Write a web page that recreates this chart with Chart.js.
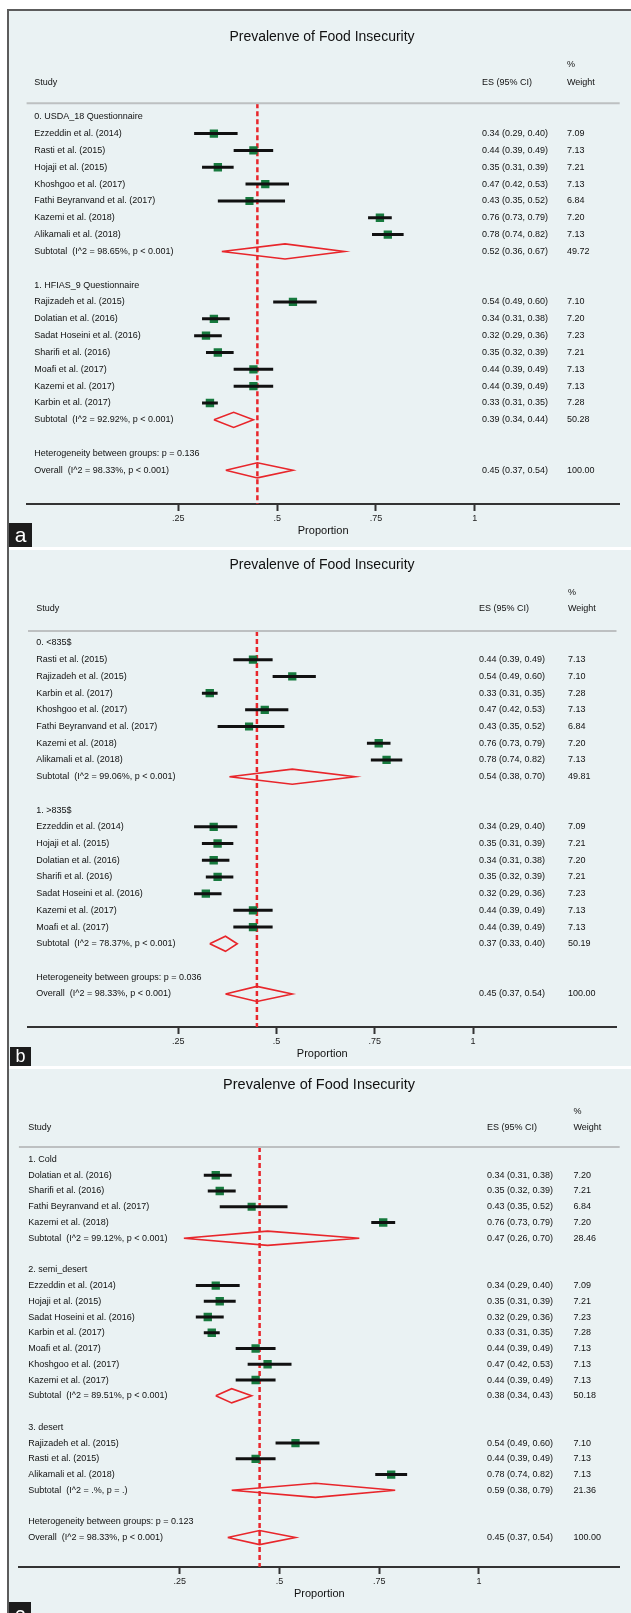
<!DOCTYPE html>
<html>
<head>
<meta charset="utf-8">
<script src="https://cdn.jsdelivr.net/npm/chart.js@4.4.1/dist/chart.umd.min.js"></script>
<style>
html, body { margin: 0; padding: 0; background: #fff; overflow: hidden; }
#frame { position: absolute; left: 7px; top: 9px; width: 624px; height: 1602px;
         border-left: 2px solid #5c5c5c; border-top: 2px solid #5c5c5c; background: #fff; }
.panel { background: #eaf2f3; width: 622px; margin-bottom: 3px; }
canvas { display: block; }
</style>
</head>
<body>
<div id="frame">
  <div class="panel"><canvas id="panel_a" width="622" height="536"></canvas></div>
  <div class="panel"><canvas id="panel_b" width="622" height="516"></canvas></div>
  <div class="panel"><canvas id="panel_c" width="622" height="544"></canvas></div>
</div>
<script>
var chart_title = 'Prevalenve of Food Insecurity'
var x_ticks = [0.25, 0.5, 0.75, 1]
var x_tick_labels = ['.25', '.5', '.75', '1']

// a: by questionnaire
var a_kind = ['group', 'study', 'study', 'study', 'study', 'study', 'study', 'study', 'sub', 'blank',
    'group', 'study', 'study', 'study', 'study', 'study', 'study', 'study', 'sub', 'blank', 'het', 'overall']
var a_label = ['0. USDA_18 Questionnaire', 'Ezzeddin et al. (2014)', 'Rasti et al. (2015)', 'Hojaji et al. (2015)',
    'Khoshgoo et al. (2017)', 'Fathi Beyranvand et al. (2017)', 'Kazemi et al. (2018)', 'Alikamali et al. (2018)',
    'Subtotal  (I^2 = 98.65%, p < 0.001)', '',
    '1. HFIAS_9 Questionnaire', 'Rajizadeh et al. (2015)', 'Dolatian et al. (2016)', 'Sadat Hoseini et al. (2016)',
    'Sharifi et al. (2016)', 'Moafi et al. (2017)', 'Kazemi et al. (2017)', 'Karbin et al. (2017)',
    'Subtotal  (I^2 = 92.92%, p < 0.001)', '',
    'Heterogeneity between groups: p = 0.136', 'Overall  (I^2 = 98.33%, p < 0.001)']
var a_es = [null, 0.34, 0.44, 0.35, 0.47, 0.43, 0.76, 0.78, 0.52, null, null, 0.54, 0.34, 0.32, 0.35, 0.44, 0.44, 0.33, 0.39, null, null, 0.45]
var a_lo = [null, 0.29, 0.39, 0.31, 0.42, 0.35, 0.73, 0.74, 0.36, null, null, 0.49, 0.31, 0.29, 0.32, 0.39, 0.39, 0.31, 0.34, null, null, 0.37]
var a_hi = [null, 0.40, 0.49, 0.39, 0.53, 0.52, 0.79, 0.82, 0.67, null, null, 0.60, 0.38, 0.36, 0.39, 0.49, 0.49, 0.35, 0.44, null, null, 0.54]
var a_weight = [null, 7.09, 7.13, 7.21, 7.13, 6.84, 7.20, 7.13, 49.72, null, null, 7.10, 7.20, 7.23, 7.21, 7.13, 7.13, 7.28, 50.28, null, null, 100.00]

// b: by income
var b_kind = a_kind
var b_label = ['0. <835$', 'Rasti et al. (2015)', 'Rajizadeh et al. (2015)', 'Karbin et al. (2017)',
    'Khoshgoo et al. (2017)', 'Fathi Beyranvand et al. (2017)', 'Kazemi et al. (2018)', 'Alikamali et al. (2018)',
    'Subtotal  (I^2 = 99.06%, p < 0.001)', '',
    '1. >835$', 'Ezzeddin et al. (2014)', 'Hojaji et al. (2015)', 'Dolatian et al. (2016)',
    'Sharifi et al. (2016)', 'Sadat Hoseini et al. (2016)', 'Kazemi et al. (2017)', 'Moafi et al. (2017)',
    'Subtotal  (I^2 = 78.37%, p < 0.001)', '',
    'Heterogeneity between groups: p = 0.036', 'Overall  (I^2 = 98.33%, p < 0.001)']
var b_es = [null, 0.44, 0.54, 0.33, 0.47, 0.43, 0.76, 0.78, 0.54, null, null, 0.34, 0.35, 0.34, 0.35, 0.32, 0.44, 0.44, 0.37, null, null, 0.45]
var b_lo = [null, 0.39, 0.49, 0.31, 0.42, 0.35, 0.73, 0.74, 0.38, null, null, 0.29, 0.31, 0.31, 0.32, 0.29, 0.39, 0.39, 0.33, null, null, 0.37]
var b_hi = [null, 0.49, 0.60, 0.35, 0.53, 0.52, 0.79, 0.82, 0.70, null, null, 0.40, 0.39, 0.38, 0.39, 0.36, 0.49, 0.49, 0.40, null, null, 0.54]
var b_weight = [null, 7.13, 7.10, 7.28, 7.13, 6.84, 7.20, 7.13, 49.81, null, null, 7.09, 7.21, 7.20, 7.21, 7.23, 7.13, 7.13, 50.19, null, null, 100.00]

// c: by climate
var c_kind = ['group', 'study', 'study', 'study', 'study', 'sub', 'blank',
    'group', 'study', 'study', 'study', 'study', 'study', 'study', 'study', 'sub', 'blank',
    'group', 'study', 'study', 'study', 'sub', 'blank', 'het', 'overall']
var c_label = ['1. Cold', 'Dolatian et al. (2016)', 'Sharifi et al. (2016)', 'Fathi Beyranvand et al. (2017)',
    'Kazemi et al. (2018)', 'Subtotal  (I^2 = 99.12%, p < 0.001)', '',
    '2. semi_desert', 'Ezzeddin et al. (2014)', 'Hojaji et al. (2015)', 'Sadat Hoseini et al. (2016)',
    'Karbin et al. (2017)', 'Moafi et al. (2017)', 'Khoshgoo et al. (2017)', 'Kazemi et al. (2017)',
    'Subtotal  (I^2 = 89.51%, p < 0.001)', '',
    '3. desert', 'Rajizadeh et al. (2015)', 'Rasti et al. (2015)', 'Alikamali et al. (2018)',
    'Subtotal  (I^2 = .%, p = .)', '',
    'Heterogeneity between groups: p = 0.123', 'Overall  (I^2 = 98.33%, p < 0.001)']
var c_es = [null, 0.34, 0.35, 0.43, 0.76, 0.47, null, null, 0.34, 0.35, 0.32, 0.33, 0.44, 0.47, 0.44, 0.38, null, null, 0.54, 0.44, 0.78, 0.59, null, null, 0.45]
var c_lo = [null, 0.31, 0.32, 0.35, 0.73, 0.26, null, null, 0.29, 0.31, 0.29, 0.31, 0.39, 0.42, 0.39, 0.34, null, null, 0.49, 0.39, 0.74, 0.38, null, null, 0.37]
var c_hi = [null, 0.38, 0.39, 0.52, 0.79, 0.70, null, null, 0.40, 0.39, 0.36, 0.35, 0.49, 0.53, 0.49, 0.43, null, null, 0.60, 0.49, 0.82, 0.79, null, null, 0.54]
var c_weight = [null, 7.20, 7.21, 6.84, 7.20, 28.46, null, null, 7.09, 7.21, 7.23, 7.28, 7.13, 7.13, 7.13, 50.18, null, null, 7.10, 7.13, 7.13, 21.36, null, null, 100.00]

var FONT = '"Liberation Sans", Arial, Helvetica, sans-serif'
var RED = '#e8262b'
var GREEN = '#177a3e'
Chart.defaults.font.family = FONT

// pixel layout of each panel (canvas coords)
var layouts = {
    a: { padL: 17.6, padR: 11.3, padT: 92.3, padB: 9, xMin: -0.1338, xMax: 1.3666, yMin: -0.8, yMax: 23,
         titleX: 313, titleY: 26, titleSize: 14, pctY: 54, headY: 71.7, labelX: 25.2, esX: 473, wX: 558,
         box: [0, 512, 23, 24], letter: 'a', letterSize: 21 },
    b: { padL: 19, padR: 14.5, padT: 81, padB: 5, xMin: -0.1326, xMax: 1.3652, yMin: -0.718, yMax: 22.98,
         titleX: 313, titleY: 15, titleSize: 14, pctY: 43, headY: 59, labelX: 27.2, esX: 470, wX: 559,
         box: [1, 497, 21, 19], letter: 'b', letterSize: 18 },
    c: { padL: 9.9, padR: 11.3, padT: 78, padB: 12, xMin: -0.1537, xMax: 1.3531, yMin: -0.794, yMax: 25.87,
         titleX: 310, titleY: 16, titleSize: 14.5, pctY: 43, headY: 59, labelX: 19.2, esX: 478, wX: 564.4,
         box: [0, 533, 22, 24], letter: 'c', letterSize: 21 }
}

var forestText = {
    id: 'forestText',
    afterDraw: function (chart, args, opts) {
        var ctx = chart.ctx, ca = chart.chartArea, y = chart.scales.y
        var L = opts.layout
        ctx.save()
        // line under the column headers
        ctx.strokeStyle = '#bdc0c1'
        ctx.lineWidth = 2
        ctx.beginPath()
        ctx.moveTo(ca.left, ca.top)
        ctx.lineTo(ca.right, ca.top)
        ctx.stroke()

        ctx.fillStyle = '#111'
        ctx.textBaseline = 'middle'
        ctx.textAlign = 'center'
        ctx.font = L.titleSize + 'px ' + FONT
        ctx.fillText(chart_title, L.titleX, L.titleY)

        ctx.textAlign = 'left'
        ctx.font = '9px ' + FONT
        ctx.fillText('Study', L.labelX, L.headY)
        ctx.fillText('ES (95% CI)', L.esX, L.headY)
        ctx.fillText('%', L.wX, L.pctY)
        ctx.fillText('Weight', L.wX, L.headY)

        for (var i = 0; i < opts.label.length; i++) {
            var py = y.getPixelForValue(i)
            ctx.fillText(opts.label[i], L.labelX, py)
            if (opts.es[i] !== null) {
                ctx.fillText(opts.es[i].toFixed(2) + ' (' + opts.lo[i].toFixed(2) + ', ' + opts.hi[i].toFixed(2) + ')', L.esX, py)
                ctx.fillText(opts.weight[i].toFixed(2), L.wX, py)
            }
        }

        // panel letter
        ctx.fillStyle = '#1c1c1c'
        ctx.fillRect(L.box[0], L.box[1], L.box[2], L.box[3])
        ctx.fillStyle = '#fff'
        ctx.textAlign = 'center'
        ctx.font = L.letterSize + 'px ' + FONT
        ctx.fillText(L.letter, L.box[0] + L.box[2] / 2, L.box[1] + L.box[3] / 2 + 1)
        ctx.restore()
    }
}

function buildDatasets(kind, es, lo, hi, weight, L) {
    var sets = []
    var overall = es[kind.indexOf('overall')]
    sets.push({
        data: [{ x: overall, y: L.yMin }, { x: overall, y: L.yMax }],
        showLine: true, borderColor: RED, borderWidth: 2.5, borderDash: [5, 3],
        pointRadius: 0, order: 9
    })
    var boxes = []
    var box_w = []
    kind.forEach(function (k, i) {
        if (k === 'study') {
            boxes.push({ x: es[i], y: i })
            box_w.push(weight[i])
            sets.push({
                data: [{ x: lo[i], y: i }, { x: hi[i], y: i }],
                showLine: true, borderColor: '#111', borderWidth: 3, borderCapStyle: 'butt',
                pointRadius: 0, order: 0
            })
        } else if (k === 'sub' || k === 'overall') {
            var dh = 0.45
            sets.push({
                data: [{ x: lo[i], y: i }, { x: es[i], y: i - dh }, { x: hi[i], y: i },
                       { x: es[i], y: i + dh }, { x: lo[i], y: i }],
                showLine: true, borderColor: RED, borderWidth: 1.6, borderJoinStyle: 'miter',
                pointRadius: 0, order: 2
            })
        }
    })
    sets.push({
        data: boxes,
        pointStyle: 'rect',
        pointRadius: function (c) { return 2.2 * Math.sqrt(box_w[c.dataIndex]) },
        backgroundColor: GREEN, borderWidth: 0, order: 1
    })
    return sets
}

function drawPanel(canvas_id, L, kind, label, es, lo, hi, weight) {
    new Chart(document.getElementById(canvas_id), {
        type: 'scatter',
        data: { datasets: buildDatasets(kind, es, lo, hi, weight, L) },
        options: {
            responsive: false,
            animation: false,
            events: [],
            layout: { padding: { left: L.padL, right: L.padR, top: L.padT, bottom: L.padB } },
            plugins: {
                legend: { display: false },
                tooltip: { enabled: false },
                forestText: { layout: L, label: label, es: es, lo: lo, hi: hi, weight: weight }
            },
            scales: {
                x: {
                    type: 'linear', position: 'bottom', min: L.xMin, max: L.xMax, bounds: 'data',
                    afterBuildTicks: function (axis) { axis.ticks = x_ticks.map(function (v) { return { value: v } }) },
                    afterFit: function (axis) { axis.height = 34 },
                    ticks: {
                        padding: 2, color: '#222', font: { size: 9 }, maxRotation: 0, autoSkip: false,
                        callback: function (v) { return x_tick_labels[x_ticks.indexOf(v)] }
                    },
                    grid: { display: true, drawOnChartArea: false, drawTicks: true, tickLength: 7, tickWidth: 2, tickColor: '#333' },
                    border: { display: true, color: '#333', width: 2 },
                    title: { display: true, text: 'Proportion', color: '#111', font: { size: 11 }, padding: 0 }
                },
                y: { type: 'linear', display: false, reverse: true, min: L.yMin, max: L.yMax, bounds: 'data' }
            }
        },
        plugins: [forestText]
    })
}

drawPanel('panel_a', layouts.a, a_kind, a_label, a_es, a_lo, a_hi, a_weight)
drawPanel('panel_b', layouts.b, b_kind, b_label, b_es, b_lo, b_hi, b_weight)
drawPanel('panel_c', layouts.c, c_kind, c_label, c_es, c_lo, c_hi, c_weight)
</script>
</body>
</html>
